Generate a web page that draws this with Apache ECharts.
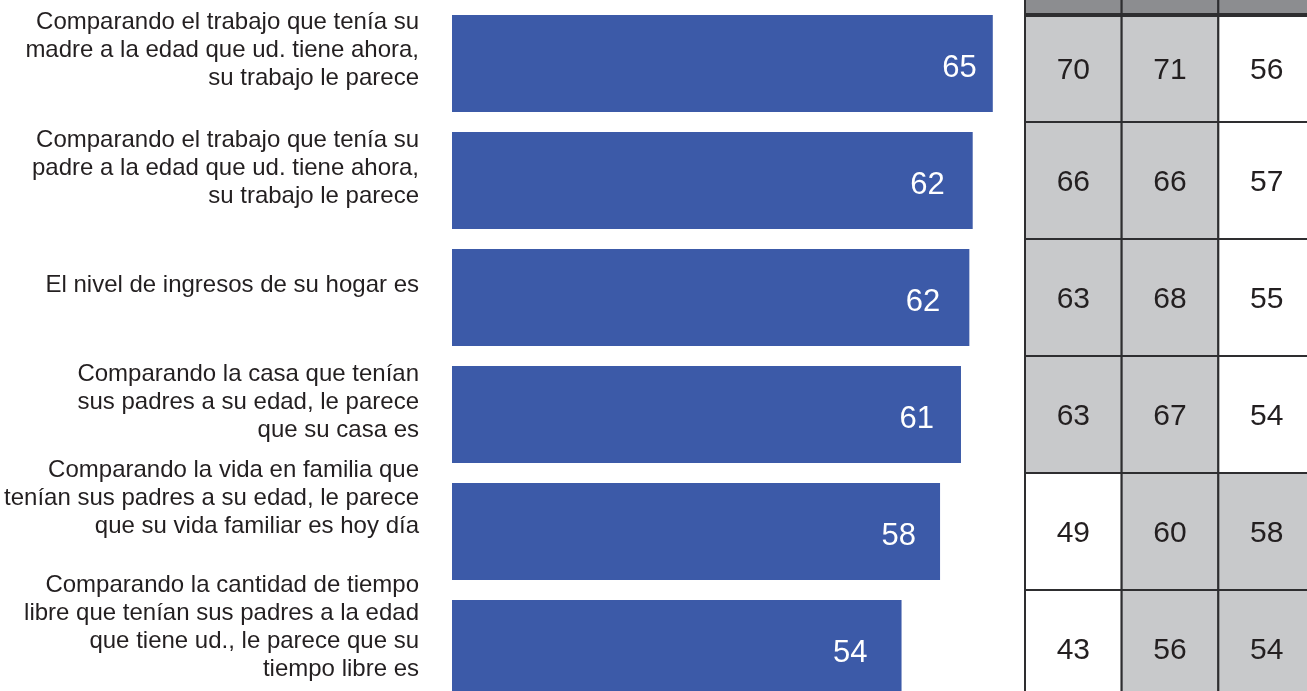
<!DOCTYPE html>
<html>
<head>
<meta charset="utf-8">
<script src="https://cdn.jsdelivr.net/npm/echarts@6/dist/echarts.min.js"></script>
<style>
html,body{margin:0;padding:0;background:#fff;}
#main{width:1307px;height:691px;}
</style>
</head>
<body>
<div id="main"></div>
<script>
// ---- data ----
var categories = [
  'Comparando el trabajo que tenía su\nmadre a la edad que ud. tiene ahora,\nsu trabajo le parece',
  'Comparando el trabajo que tenía su\npadre a la edad que ud. tiene ahora,\nsu trabajo le parece',
  'El nivel de ingresos de su hogar es',
  'Comparando la casa que tenían\nsus padres a su edad, le parece\nque su casa es',
  'Comparando la vida en familia que\ntenían sus padres a su edad, le parece\nque su vida familiar es hoy día',
  'Comparando la cantidad de tiempo\nlibre que tenían sus padres a la edad\nque tiene ud., le parece que su\ntiempo libre es'
];
var totalValues = [64.6, 62.2, 61.8, 60.8, 58.3, 53.7];
var tableHeaders = ['ALTO', 'MEDIO', 'BAJO'];
var altoValues  = [70, 66, 63, 63, 49, 43];
var medioValues = [71, 66, 68, 67, 60, 56];
var bajoValues  = [56, 57, 55, 54, 58, 54];
var altoShaded  = [true, true, true, true, false, false];
var medioShaded = [true, true, true, true, true, true];
var bajoShaded  = [false, false, false, false, true, true];

// ---- build ----
var FONT = 'Arial, "Liberation Sans", sans-serif';
var LINE = '#2e2e30';
var labelShift = [27, 25, 25, 25, 67, 43];
var valueLabelDx = [-11, -23, -24, -22, -19, -29];
var rich = { t: { fontSize: 24, lineHeight: 28, color: '#231f20', fontFamily: FONT } };
labelShift.forEach(function (s, i) {
  rich['s' + i] = { fontSize: 1, lineHeight: s, color: 'rgba(0,0,0,0)' };
});

var barData = totalValues.map(function (v, i) {
  return { value: v, label: { offset: [valueLabelDx[i], 5] } };
});

var cols = [altoValues, medioValues, bajoValues];
var shades = [altoShaded, medioShaded, bajoShaded];
var tableData = [];
for (var c = 0; c < 3; c++) {
  for (var r = 0; r < categories.length; r++) {
    tableData.push([c, r, cols[c][r], shades[c][r] ? 1 : 0]);
  }
}

var chart = echarts.init(document.getElementById('main'), null, { renderer: 'canvas' });
chart.setOption({
  animation: false,
  backgroundColor: '#ffffff',
  grid: [
    { left: 452, top: 5, width: 586, height: 702, containLabel: false, outerBoundsMode: 'none' },
    { left: 1025, top: 5, width: 290, height: 702, containLabel: false, outerBoundsMode: 'none' }
  ],
  xAxis: [
    { gridIndex: 0, type: 'value', min: 0, max: 70, show: false },
    {
      gridIndex: 1, type: 'category', data: tableHeaders, position: 'top', z: 10,
      axisLine: { show: false }, axisTick: { show: false },
      axisLabel: { color: '#ffffff', fontSize: 24, fontFamily: FONT, margin: 0, interval: 0, hideOverlap: false },
      splitLine: { show: false }
    }
  ],
  yAxis: [
    {
      gridIndex: 0, type: 'category', data: categories, inverse: true,
      axisLine: { show: false }, axisTick: { show: false }, splitLine: { show: false },
      axisLabel: {
        margin: 33, align: 'right', fontSize: 24, lineHeight: 28,
        color: '#231f20', fontFamily: FONT, interval: 0,
        formatter: function (v, idx) {
          return v.split('\n').map(function (l) { return '{t|' + l + '}'; }).join('\n') +
            '\n{s' + idx + '| }';
        },
        rich: rich
      }
    },
    {
      gridIndex: 1, type: 'category', data: categories.map(function (c, i) { return i; }), inverse: true,
      show: false
    }
  ],
  series: [
    {
      type: 'bar', xAxisIndex: 0, yAxisIndex: 0,
      data: barData, barCategoryGap: '17%',
      itemStyle: { color: '#3c5aa8' },
      label: {
        show: true, position: 'insideRight',
        color: '#ffffff', fontSize: 31, fontFamily: FONT,
        formatter: function (p) { return Math.round(p.value); }
      }
    },
    {
      type: 'custom', xAxisIndex: 1, yAxisIndex: 1, z: 2,
      data: tableData,
      renderItem: function (params, api) {
        var col = api.value(0), row = api.value(1);
        var center = api.coord([col, row]);
        var size = api.size([1, 1]);
        var x0 = center[0] - size[0] / 2, y0 = center[1] - size[1] / 2;
        var children = [];
        var top = y0;
        if (row === 0) {
          top = 15;
          children.push({
            type: 'rect',
            shape: { x: x0, y: -60, width: size[0], height: 75 },
            style: { fill: '#8c8d90', stroke: LINE, lineWidth: 2 }
          });
        }
        children.push({
          type: 'rect',
          shape: { x: x0, y: top, width: size[0], height: y0 + size[1] - top },
          style: { fill: api.value(3) ? '#c8c9cb' : '#ffffff', stroke: LINE, lineWidth: 2 }
        });
        if (row === 0) {
          children.push({
            type: 'line',
            shape: { x1: x0 - 1, y1: 15, x2: x0 + size[0] + 1, y2: 15 },
            style: { stroke: LINE, lineWidth: 4 }
          });
        }
        children.push({
          type: 'text',
          style: {
            text: String(api.value(2)),
            x: center[0], y: (top + y0 + size[1]) / 2 + 2,
            align: 'center', verticalAlign: 'middle',
            fill: '#231f20', fontSize: 30, fontFamily: FONT
          }
        });
        return { type: 'group', children: children };
      }
    }
  ]
});
</script>
</body>
</html>
